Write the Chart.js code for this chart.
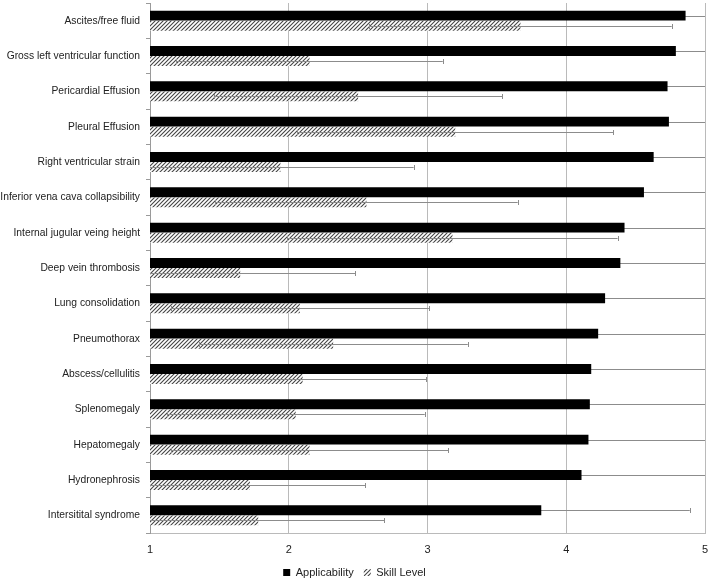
<!DOCTYPE html>
<html>
<head>
<meta charset="utf-8">
<script src="https://cdn.jsdelivr.net/npm/chart.js@4.4.1/dist/chart.umd.min.js"></script>
<style>
  html, body { margin: 0; padding: 0; background: #fff; overflow: hidden; }
  canvas { display: block; }
</style>
</head>
<body>
<canvas id="usChart" width="709" height="580"></canvas>
<script>
const categories = [
  'Ascites/free fluid',
  'Gross left ventricular function',
  'Pericardial Effusion',
  'Pleural Effusion',
  'Right ventricular strain',
  'Inferior vena cava collapsibility',
  'Internal jugular veing height',
  'Deep vein thrombosis',
  'Lung consolidation',
  'Pneumothorax',
  'Abscess/cellulitis',
  'Splenomegaly',
  'Hepatomegaly',
  'Hydronephrosis',
  'Intersitital syndrome'
];
const applicability = [4.86, 4.79, 4.73, 4.74, 4.63, 4.56, 4.42, 4.39, 4.28, 4.23, 4.18, 4.17, 4.16, 4.11, 3.82];
const applicabilityErr = [0.45, 0.5, 0.6, 0.6, 0.7, 0.75, 0.85, 0.85, 0.9, 0.95, 0.95, 1.0, 1.0, 1.0, 1.07];
const skill = [3.67, 2.15, 2.50, 3.20, 1.94, 2.56, 3.18, 1.65, 2.08, 2.32, 2.10, 2.05, 2.15, 1.72, 1.78];
const skillErr = [1.09, 0.96, 1.04, 1.14, 0.96, 1.09, 1.19, 0.83, 0.93, 0.97, 0.89, 0.93, 1.0, 0.83, 0.91];
const xTicks = [1, 2, 3, 4, 5];

const FONT = "'Liberation Sans', Roboto, sans-serif";

// diagonal hatch for skill level
function hatch() {
  const c = document.createElement('canvas');
  c.width = 4; c.height = 4;
  const g = c.getContext('2d');
  g.fillStyle = '#fff';
  g.fillRect(0, 0, 4, 4);
  g.strokeStyle = '#444';
  g.lineWidth = 1.1;
  g.beginPath();
  g.moveTo(0, 4); g.lineTo(4, 0);
  g.moveTo(-1, 1); g.lineTo(1, -1);
  g.moveTo(3, 5); g.lineTo(5, 3);
  g.stroke();
  return g.createPattern(c, 'repeat');
}
const hatchFill = hatch();

const errors = [applicabilityErr, skillErr];

function drawErr(chart, index) {
  const meta = chart.getDatasetMeta(index);
  const xs = chart.scales.x;
  const area = chart.chartArea;
  const ctx = chart.ctx;
  const vals = chart.data.datasets[index].data;
  ctx.save();
  ctx.beginPath();
  ctx.rect(area.left, area.top - 5, area.right - area.left, area.bottom - area.top + 10);
  ctx.clip();
  ctx.strokeStyle = '#8c8c8c';
  ctx.lineWidth = 1;
  meta.data.forEach((el, i) => {
    const e = errors[index][i];
    const x0 = xs.getPixelForValue(vals[i] - e);
    const x1 = xs.getPixelForValue(vals[i] + e);
    const y = Math.round(el.y) + 0.5;
    ctx.beginPath();
    ctx.moveTo(x0, y); ctx.lineTo(x1, y);
    ctx.moveTo(Math.round(x0) + 0.5, y - 2.5); ctx.lineTo(Math.round(x0) + 0.5, y + 2.5);
    ctx.moveTo(Math.round(x1) + 0.5, y - 2.5); ctx.lineTo(Math.round(x1) + 0.5, y + 2.5);
    ctx.stroke();
  });
  ctx.restore();
}

const errorBars = {
  id: 'errorBars',
  beforeDatasetDraw(chart, args) {
    if (args.index === 0) drawErr(chart, 0);
  },
  afterDatasetDraw(chart, args) {
    if (args.index === 1) drawErr(chart, 1);
  }
};

new Chart(document.getElementById('usChart'), {
  type: 'bar',
  data: {
    labels: categories,
    datasets: [{
      label: 'Applicability',
      data: applicability,
      backgroundColor: '#000',
      borderWidth: 0,
      barPercentage: 0.98,
      categoryPercentage: 0.57
    },
    {
      label: 'Skill Level',
      data: skill,
      backgroundColor: hatchFill,
      borderWidth: 0,
      barPercentage: 0.98,
      categoryPercentage: 0.57
    }]
  },
  options: {
    indexAxis: 'y',
    responsive: false,
    animation: false,
    layout: { padding: { top: 3, right: 0, left: 0, bottom: -8 } },
    scales: {
      x: {
        min: 1,
        max: 5,
        afterFit: (s) => { s.height = 24; s.paddingRight = 4; s.paddingLeft = 0; },
        ticks: {
          stepSize: 1,
          color: '#222',
          font: { family: FONT, size: 11 },
          padding: 10,
          callback: (v) => xTicks.includes(v) ? v : ''
        },
        grid: { color: '#bababa', drawTicks: false },
        border: { color: '#bababa' }
      },
      y: {
        afterFit: (s) => { s.width = 150; s.paddingTop = 0; s.paddingBottom = 0; },
        ticks: {
          color: '#222',
          font: { family: FONT, size: 10.3 },
          padding: 6
        },
        grid: { drawOnChartArea: false, drawTicks: true, tickLength: 4, color: '#9a9a9a', offset: true },
        border: { color: '#9a9a9a' }
      }
    },
    plugins: {
      legend: {
        position: 'bottom',
        labels: {
          color: '#222',
          font: { family: FONT, size: 11 },
          boxWidth: 7,
          boxHeight: 7,
          padding: 10
        }
      },
      tooltip: { enabled: false }
    }
  },
  plugins: [errorBars]
});
</script>
</body>
</html>
